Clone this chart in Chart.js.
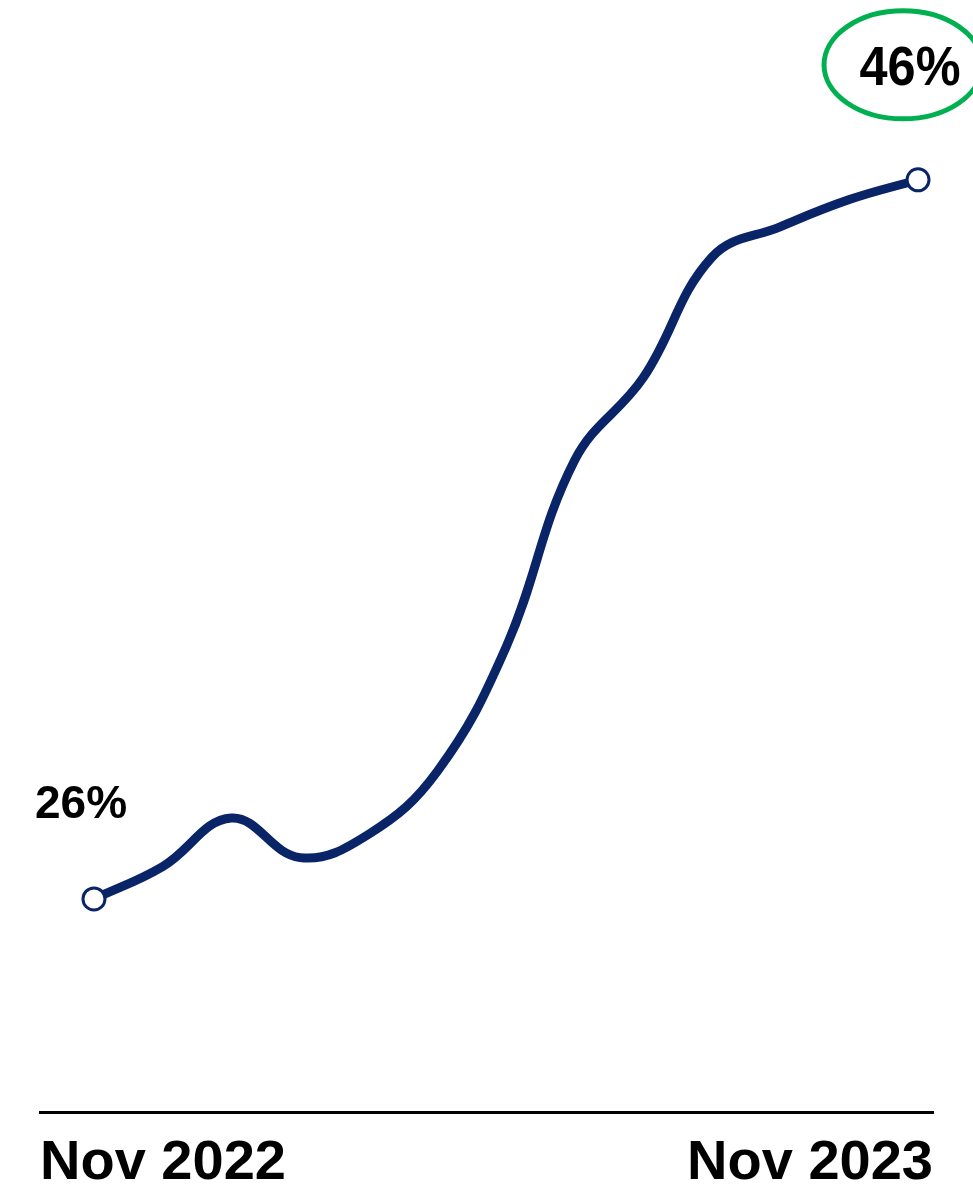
<!DOCTYPE html>
<html>
<head>
<meta charset="utf-8">
<script src="https://cdn.jsdelivr.net/npm/chart.js@4"></script>
<style>
  html, body { margin: 0; padding: 0; background: #fff; }
  #wrap { width: 973px; height: 1188px; position: relative; }
</style>
</head>
<body>
<div id="wrap"><canvas id="myChart"></canvas></div>
<script>
// data
var months = ['Nov 2022', 'Dec 2022', 'Jan 2023', 'Feb 2023', 'Mar 2023', 'Apr 2023', 'May 2023',
              'Jun 2023', 'Jul 2023', 'Aug 2023', 'Sep 2023', 'Oct 2023', 'Nov 2023'];
var shares = [26, 26.9, 28.25, 27.15, 27.8, 29.55, 33.0, 38.2, 40.5, 43.85, 44.7, 45.45, 46];
var tickLabels = ['Nov 2022', 'Nov 2023'];

var navy = '#0a2468';
var green = '#00b050';
var last = shares.length - 1;

var points = shares.map(function(v, i) { return { x: i, y: v }; });
var radii = shares.map(function(v, i) { return (i === 0 || i === last) ? 11 : 0; });

// labels for first and last value, green ring round the last one
var callouts = {
  id: 'callouts',
  afterDatasetsDraw: function(chart) {
    var ctx = chart.ctx;
    var pts = chart.getDatasetMeta(0).data;
    var p0 = pts[0], p1 = pts[last];
    ctx.save();
    ctx.fillStyle = '#000';
    ctx.textBaseline = 'alphabetic';

    ctx.font = 'bold 46px "Liberation Sans", Arial, sans-serif';
    ctx.textAlign = 'left';
    ctx.fillText(Math.round(shares[0]) + '%', p0.x - 59, p0.y - 81);

    ctx.beginPath();
    ctx.ellipse(p1.x - 15, p1.y - 115, 79, 54, 0, 0, Math.PI * 2);
    ctx.strokeStyle = green;
    ctx.lineWidth = 5;
    ctx.stroke();

    // a bit narrower, like the original
    ctx.translate(p1.x - 8, p1.y - 95);
    ctx.scale(0.9, 1);
    ctx.font = 'bold 56px "Liberation Sans", Arial, sans-serif';
    ctx.textAlign = 'center';
    ctx.fillText(Math.round(shares[last]) + '%', 0, 0);
    ctx.restore();
  }
};

var ctx = document.getElementById('myChart').getContext('2d');

var chart = new Chart(ctx, {
  type: 'line',
  data: {
    datasets: [{
      label: 'Share',
      data: points,
      borderColor: navy,
      borderWidth: 9,
      tension: 0.4,
      pointRadius: radii,
      pointHoverRadius: radii,
      pointBackgroundColor: '#fff',
      pointBorderColor: navy,
      pointBorderWidth: 3,
      clip: false
    }]
  },
  options: {
    responsive: true,
    maintainAspectRatio: false,
    animation: false,
    events: [],
    layout: { autoPadding: false, padding: { left: 40, right: 40, top: 0, bottom: 0 } },
    plugins: {
      legend: { display: false },
      tooltip: { enabled: false }
    },
    scales: {
      x: {
        type: 'linear',
        min: -0.786,
        max: 12.218,
        afterBuildTicks: function(scale) {
          scale.ticks = [{ value: scale.min }, { value: scale.max }];
        },
        afterFit: function(scale) {
          scale.height = 76;
        },
        grid: { display: false, drawTicks: false },
        border: { display: true, color: '#000', width: 3 },
        ticks: {
          autoSkip: false,
          maxRotation: 0,
          align: 'inner',
          padding: 27,
          color: '#000',
          font: { family: '"Liberation Sans", Arial, sans-serif', size: 56, weight: 'bold', lineHeight: 0.87 },
          callback: function(value, index) { return tickLabels[index]; }
        }
      },
      y: {
        display: false,
        min: 20.075,
        max: 51.0
      }
    }
  },
  plugins: [callouts]
});
</script>
</body>
</html>
